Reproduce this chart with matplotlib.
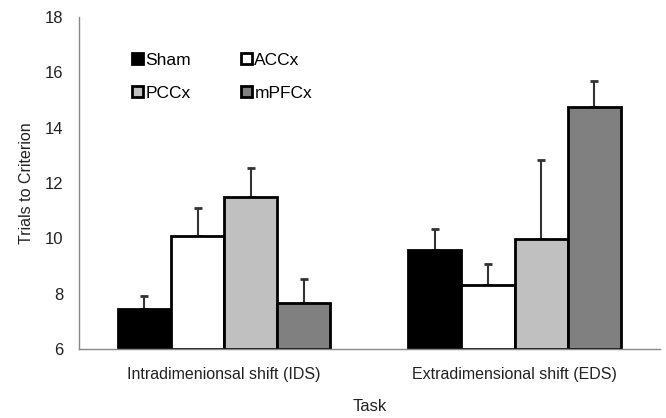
import matplotlib
matplotlib.use("Agg")
import matplotlib.pyplot as plt
import numpy as np

plt.rcParams['font.family'] = ['Liberation Sans', 'DejaVu Sans']

tasks = ["Intradimenionsal shift (IDS)", "Extradimensional shift (EDS)"]
groups = ["Sham", "ACCx", "PCCx", "mPFCx"]
means = {
    "Sham":  [7.44, 9.57],
    "ACCx":  [10.08, 8.31],
    "PCCx":  [11.49, 9.97],
    "mPFCx": [7.66, 14.74],
}
errors = {
    "Sham":  [0.48, 0.76],
    "ACCx":  [1.02, 0.76],
    "PCCx":  [1.04, 2.85],
    "mPFCx": [0.87, 0.96],
}
colors = ["#000000", "#ffffff", "#c0c0c0", "#808080"]
yticks = [6, 8, 10, 12, 14, 16, 18]

fig = plt.figure(figsize=(6.66, 4.18), dpi=100)
ax = fig.add_axes([0.1186, 0.165, 0.872, 0.794])

x = np.arange(len(tasks))
w = 0.183
handles = []
for i, g in enumerate(groups):
    pos = x + (i - 1.5) * w
    base = 6
    b = ax.bar(pos, np.array(means[g]) - base, bottom=base, width=w, color=colors[i],
               edgecolor="black", linewidth=2, label=g, zorder=2)
    handles.append(b)
    ax.errorbar(pos, means[g], yerr=[np.zeros(2), errors[g]], fmt="none",
                ecolor="#333333", elinewidth=1.5, capsize=3, capthick=2, zorder=1)

ax.set_xlim(-0.5, 1.5)
ax.set_ylim(6, 18)
ax.set_yticks(yticks)
ax.set_xticks(x)
ax.set_xticklabels(tasks, fontsize=11.5, color="#222222")
ax.tick_params(axis="y", labelsize=12, colors="#222222", length=0, pad=11)
ax.tick_params(axis="x", length=0, pad=13)
for s in ["top", "right"]:
    ax.spines[s].set_visible(False)
for s in ["left", "bottom"]:
    ax.spines[s].set_color("#888888")
    ax.spines[s].set_linewidth(1)

ax.set_ylabel("Trials to Criterion", fontsize=11.5, color="#222222", labelpad=8)
ax.set_xlabel("Task", fontsize=12, color="#222222", labelpad=12)

order = [0, 2, 1, 3]
leg = ax.legend([handles[k] for k in order], [groups[k] for k in order],
                ncol=2, loc="upper left", bbox_to_anchor=(0.092, 0.893), frameon=False,
                fontsize=12.5, handlelength=0.6, handleheight=0.6, handletextpad=0.15,
                columnspacing=2.9, labelspacing=1.05, borderaxespad=0, borderpad=0)

fig.savefig("out.png", dpi=100)
